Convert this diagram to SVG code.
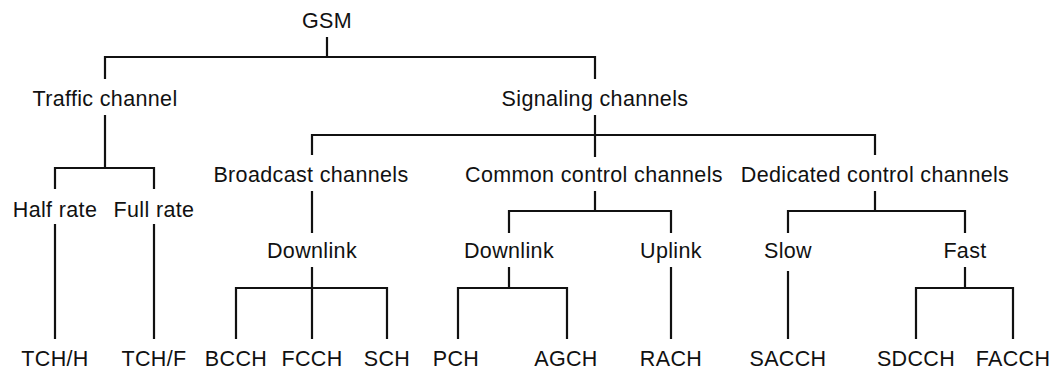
<svg xmlns="http://www.w3.org/2000/svg" width="1054" height="369" viewBox="0 0 1054 369">
<style>
text{font-family:"Liberation Sans",Arial,sans-serif;font-size:21.5px;letter-spacing:0.35px;fill:#111;text-anchor:middle}
.c path{fill:none;stroke:#111;stroke-width:2.2}
</style>
<rect width="1054" height="369" fill="#fff"/>
<g class="c" id="connectors">
<path d="M327 37V57M105 79V57H595V79"/>
<path d="M105 115V168M55 189V168H154V189"/>
<path d="M55 224V339M154 224V339"/>
<path d="M595 115V157M312 155V135H875V155"/>
<path d="M312 191V233"/>
<path d="M312 267V339M236 339V288H387V339"/>
<path d="M595 191V211M509 233V211H671V233"/>
<path d="M509 267V288M458 339V288H567V339"/>
<path d="M671 267V339"/>
<path d="M875 191V211M788 233V211H965V233"/>
<path d="M788 271V339"/>
<path d="M965 267V288M916 339V288H1013V339"/>
</g>
<g id="n-gsm"><text x="327" y="28">GSM</text></g>
<g id="n-traffic"><text x="105" y="106">Traffic channel</text></g>
<g id="n-signaling"><text x="595" y="106">Signaling channels</text></g>
<g id="n-half"><text x="55" y="217">Half rate</text></g>
<g id="n-full"><text x="154" y="217">Full rate</text></g>
<g id="n-broadcast"><text x="311" y="182">Broadcast channels</text></g>
<g id="n-common"><text x="594" y="182">Common control channels</text></g>
<g id="n-dedicated"><text x="875" y="182">Dedicated control channels</text></g>
<g id="n-bdown"><text x="312" y="258">Downlink</text></g>
<g id="n-cdown"><text x="509" y="258">Downlink</text></g>
<g id="n-uplink"><text x="671" y="258">Uplink</text></g>
<g id="n-slow"><text x="788" y="258">Slow</text></g>
<g id="n-fast"><text x="965" y="258">Fast</text></g>
<g id="n-tchh"><text x="55" y="366">TCH/H</text></g>
<g id="n-tchf"><text x="154" y="366">TCH/F</text></g>
<g id="n-bcch"><text x="236" y="366">BCCH</text></g>
<g id="n-fcch"><text x="312" y="366">FCCH</text></g>
<g id="n-sch"><text x="387" y="366">SCH</text></g>
<g id="n-pch"><text x="456" y="366">PCH</text></g>
<g id="n-agch"><text x="566" y="366">AGCH</text></g>
<g id="n-rach"><text x="671" y="366">RACH</text></g>
<g id="n-sacch"><text x="788" y="366">SACCH</text></g>
<g id="n-sdcch"><text x="916" y="366">SDCCH</text></g>
<g id="n-facch"><text x="1013" y="366">FACCH</text></g>
</svg>
